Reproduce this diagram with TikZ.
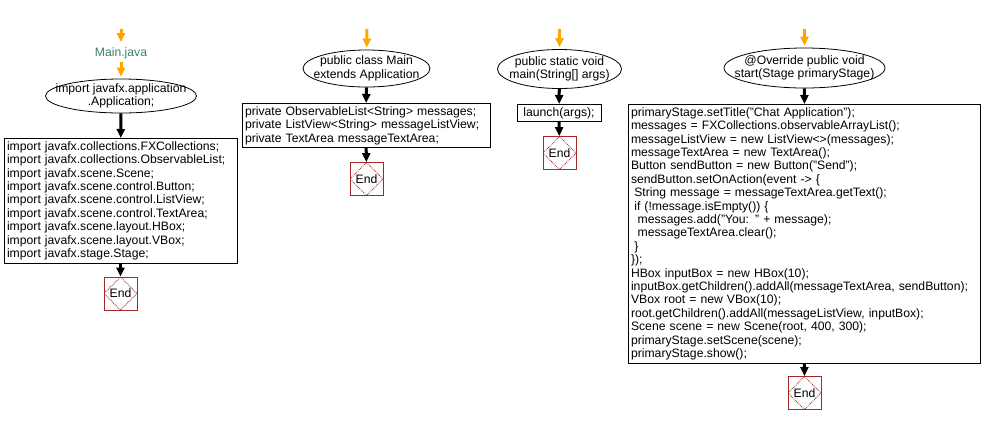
\documentclass[tikz,border=0pt]{standalone}
\usepackage{fontspec}
\setmainfont{Liberation Sans}
\usepackage{xcolor}
\usetikzlibrary{arrows.meta,shapes.geometric}

\definecolor{startorange}{RGB}{255,165,0}
\definecolor{endred}{RGB}{165,40,40}
\definecolor{filegreen}{RGB}{64,128,100}

\begin{document}
\begin{tikzpicture}[
    x=1pt,y=-1pt,
    font=\fontsize{12.2}{13.4}\selectfont,
    term/.style={draw,ellipse,line width=0.8pt,inner sep=0pt},
    codebox/.style={draw,rectangle,line width=0.8pt,align=left,inner xsep=3pt,inner ysep=3pt,anchor=north},
    endbox/.style={draw=endred,rectangle,line width=0.8pt,minimum size=33pt,inner sep=0pt,
        path picture={\draw[endred,densely dotted,line width=0.8pt] (path picture bounding box.north) -- (path picture bounding box.east) -- (path picture bounding box.south) -- (path picture bounding box.west) -- cycle;}},
    flow/.style={-{Triangle[length=9pt,width=8pt]},line width=3pt},
    entry/.style={flow,startorange,shorten >=2pt}
]
\useasboundingbox (0,0) rectangle (982,424);

% Main.java imports
\coordinate (in1) at (121,29);
\node[text=filegreen,inner sep=3pt] (mainfile) at (121,53) {Main.java};
\node[term,minimum width=151pt,minimum height=34pt,
    label={[align=center]center:import javafx.application\\.Application;}] (appimport) at (121,96) {};
\node[codebox,text width=227pt] (imports) at (120.5,138) {import javafx.collections.FXCollections;\\
import javafx.collections.ObservableList;\\
import javafx.scene.Scene;\\
import javafx.scene.control.Button;\\
import javafx.scene.control.ListView;\\
import javafx.scene.control.TextArea;\\
import javafx.scene.layout.HBox;\\
import javafx.scene.layout.VBox;\\
import javafx.stage.Stage;};
\node[endbox] (end1) at (120.5,293.5) {End};

% class fields
\coordinate (in2) at (367,29);
\node[term,minimum width=127pt,minimum height=37pt,
    label={[align=center]center:public class Main\\extends Application}] (classmain) at (366.5,68.5) {};
\node[codebox,text width=242pt] (fields) at (366,103) {private ObservableList<String> messages;\\
private ListView<String> messageListView;\\
private TextArea messageTextArea;};
\node[endbox] (end2) at (366.5,179) {End};

% main method
\coordinate (in3) at (559.5,29);
\node[term,minimum width=124pt,minimum height=39pt,
    label={[align=center]center:public static void\\main(String[] args)}] (mainmethod) at (559.5,69) {};
\node[codebox,text width=78pt,align=center] (launch) at (559,104) {launch(args);};
\node[endbox] (end3) at (559.5,153) {End};

% start method
\coordinate (in4) at (804.5,29);
\node[term,minimum width=161pt,minimum height=40pt,
    label={[align=center]center:@Override public void\\start(Stage primaryStage)}] (startmethod) at (804.5,68) {};
\node[codebox,text width=346pt] (startbody) at (804,104) {primaryStage.setTitle("Chat Application");\\
messages = FXCollections.observableArrayList();\\
messageListView = new ListView<>(messages);\\
messageTextArea = new TextArea();\\
Button sendButton = new Button("Send");\\
sendButton.setOnAction(event -> \{\\
\hspace*{3.3pt}String message = messageTextArea.getText();\\
\hspace*{3.3pt}if (!message.isEmpty()) \{\\
\hspace*{6.6pt}messages.add("You: " + message);\\
\hspace*{6.6pt}messageTextArea.clear();\\
\hspace*{3.3pt}\}\\
\});\\
HBox inputBox = new HBox(10);\\
inputBox.getChildren().addAll(messageTextArea, sendButton);\\
VBox root = new VBox(10);\\
root.getChildren().addAll(messageListView, inputBox);\\
Scene scene = new Scene(root, 400, 300);\\
primaryStage.setScene(scene);\\
primaryStage.show();};
\node[endbox] (end4) at (804.5,393) {End};

\draw[entry] (in1) -- (mainfile);
\draw[entry] (mainfile) -- (appimport);
\draw[flow] (appimport) -- (imports);
\draw[flow] (imports) -- (end1);

\draw[entry] (in2) -- (classmain);
\draw[flow] (classmain) -- (fields);
\draw[flow] (fields) -- (end2);

\draw[entry] (in3) -- (mainmethod);
\draw[flow] (mainmethod) -- (launch);
\draw[flow] (launch) -- (end3);

\draw[entry] (in4) -- (startmethod);
\draw[flow] (startmethod) -- (startbody);
\draw[flow] (startbody) -- (end4);
\end{tikzpicture}
\end{document}
